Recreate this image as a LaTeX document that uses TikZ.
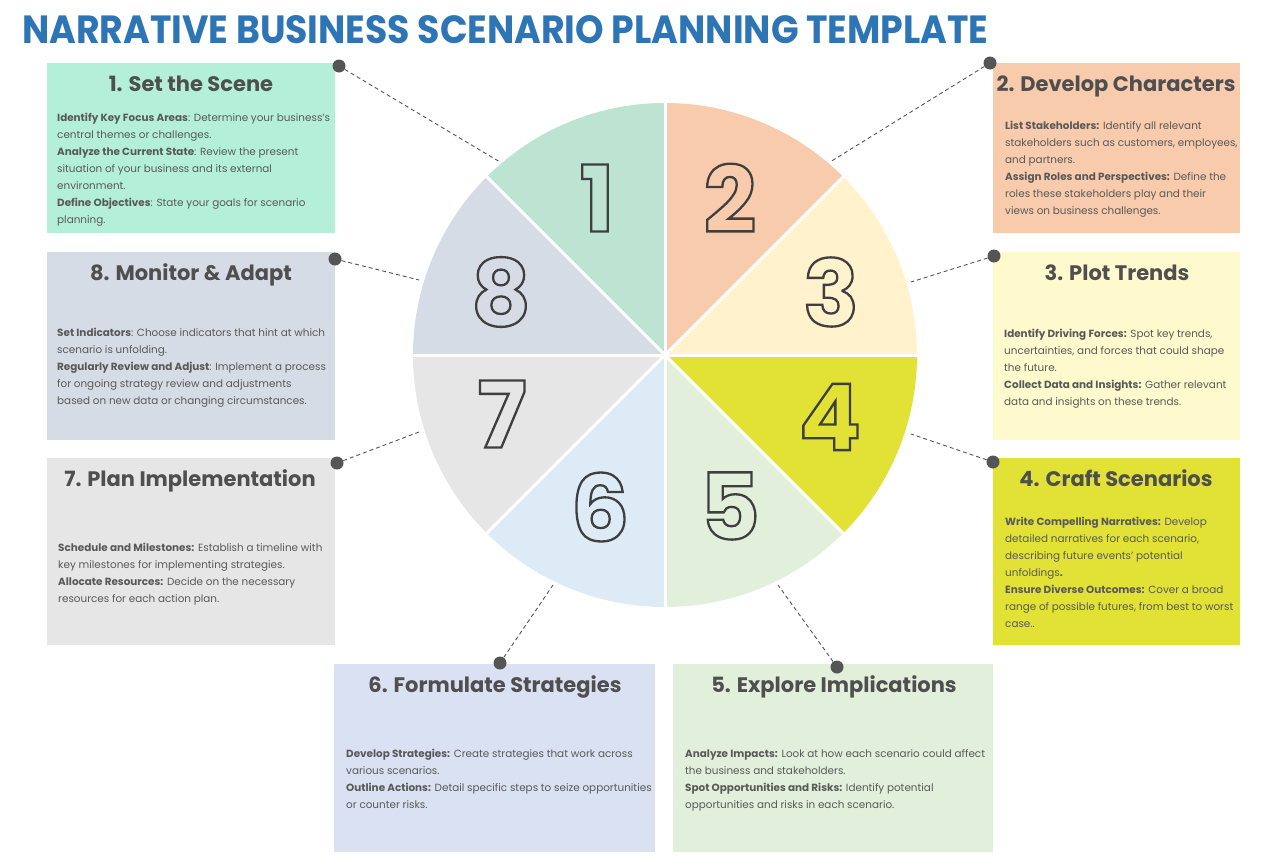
\documentclass[tikz,border=0pt]{standalone}
\usepackage{fontspec}
\setmainfont{Poppins}
\usepackage{graphicx}

\definecolor{titleblue}{HTML}{2E75B6}
\definecolor{headgray}{HTML}{4F4F4F}
\definecolor{txtgray}{HTML}{595959}
\definecolor{dotgray}{HTML}{555555}
\definecolor{numgray}{HTML}{3F3F3F}
% boxes
\definecolor{c1}{HTML}{B4F0D9}
\definecolor{c2}{HTML}{F8CBAD}
\definecolor{c3}{HTML}{FFFACD}
\definecolor{c4}{HTML}{E1E235}
\definecolor{c5}{HTML}{E2EFDA}
\definecolor{c6}{HTML}{DAE1F3}
\definecolor{c7}{HTML}{E7E6E6}
\definecolor{c8}{HTML}{D6DCE5}
% sectors
\definecolor{s1}{HTML}{BDE3D3}
\definecolor{s2}{HTML}{F8CBAD}
\definecolor{s3}{HTML}{FFF2CC}
\definecolor{s4}{HTML}{E1E235}
\definecolor{s5}{HTML}{E2EFDA}
\definecolor{s6}{HTML}{DDEBF7}
\definecolor{s7}{HTML}{E7E6E6}
\definecolor{s8}{HTML}{D6DCE5}

% outlined digits (stroke only)
\newcommand\outlined[1]{\special{pdf:code 1 Tr 2.3 w}#1\special{pdf:code 0 Tr}}

\begin{document}
\begin{tikzpicture}[x=1pt,y=-1pt]
  \tikzset{ p/.style={circle,fill=dotgray,inner sep=0pt,minimum size=13pt},
    box/.style={anchor=north west,inner sep=0pt,fill=#1},
    head/.style={anchor=base,text=headgray,font=\bfseries\fontsize{21}{25}\selectfont},
    txt/.style={anchor=north west,inner sep=0pt,align=left,text=txtgray,font=\fontsize{10.4}{17}\selectfont},
    num/.style={inner sep=0pt,text=numgray,font=\bfseries\fontsize{92}{92}\selectfont},
    dashline/.style={dotgray,line width=0.9pt,dash pattern=on 4pt off 3pt},
  }
  \useasboundingbox (0,0) rectangle (1275,860);

  \node[anchor=base west,inner sep=0pt,text=titleblue] (title) at (22,43)
    {\resizebox{966pt}{28pt}{\bfseries NARRATIVE BUSINESS SCENARIO PLANNING TEMPLATE}};

  % the boxes
  \node[box=c1,minimum width=288pt,minimum height=170pt] (b1) at (47,63) {};
  \node[box=c2,minimum width=247pt,minimum height=170pt] (b2) at (993,63) {};
  \node[box=c8,minimum width=288pt,minimum height=188pt] (b8) at (47,252) {};
  \node[box=c3,minimum width=247pt,minimum height=188pt] (b3) at (993,252) {};
  \node[box=c7,minimum width=288pt,minimum height=187pt] (b7) at (47,458) {};
  \node[box=c4,minimum width=247pt,minimum height=187pt] (b4) at (993,458) {};
  \node[box=c6,minimum width=321pt,minimum height=188pt] (b6) at (334,664) {};
  \node[box=c5,minimum width=320pt,minimum height=188pt] (b5) at (673,664) {};

  % the wheel
  \foreach \c [count=\i] in {s1,s2,s3,s4,s5,s6,s7,s8}
    \fill[\c] (665,355) -- ++({-180+45*\i}:252) arc[start angle={-180+45*\i}, delta angle=45, radius=252] -- cycle;
  \foreach \a in {0,45,...,315}
    \draw[white,line width=3pt] (665,355) -- ++(\a:254);

  \node[num] (n1) at (597,198) {\outlined{1}};
  \node[num] (n2) at (730,198) {\outlined{2}};
  \node[num] (n3) at (831,292) {\outlined{3}};
  \node[num] (n4) at (830,417) {\outlined{4}};
  \node[num] (n5) at (730,506) {\outlined{5}};
  \node[num] (n6) at (600,507) {\outlined{6}};
  \node[num] (n7) at (502,414) {\outlined{7}};
  \node[num] (n8) at (501,292) {\outlined{8}};

  % the dots and their lines to the wheel
  \node[p] (d1) at (339,66) {};
  \node[p] (d2) at (990,63) {};
  \node[p] (d3) at (994,256) {};
  \node[p] (d4) at (993,462) {};
  \node[p] (d5) at (837,667) {};
  \node[p] (d6) at (500,663) {};
  \node[p] (d7) at (337,463) {};
  \node[p] (d8) at (335,259) {};
  \coordinate (e1) at (500,162);
  \coordinate (e2) at (830,162);
  \coordinate (e3) at (911,282);
  \coordinate (e4) at (911,434);
  \coordinate (e5) at (778,585);
  \coordinate (e6) at (553,585);
  \coordinate (e7) at (419,432);
  \coordinate (e8) at (419,280);
  \foreach \i in {1,...,8}
    \draw[dashline] (d\i) -- (e\i);

  % headings
  \node[head] (h1) at (191,91) {1. Set the Scene};
  \node[head] (h2) at (1116,91) {2. Develop Characters};
  \node[head] (h3) at (1117,280) {3. Plot Trends};
  \node[head] (h4) at (1116,486) {4. Craft Scenarios};
  \node[head] (h5) at (834,692) {5. Explore Implications};
  \node[head] (h6) at (495,692) {6. Formulate Strategies};
  \node[head] (h7) at (190,486) {7. Plan Implementation};
  \node[head] (h8) at (191,280) {8. Monitor \& Adapt};

  % texts
  \node[txt] (t1) at (57,113) {\textbf{Identify Key Focus Areas}: Determine your business’s\\
    central themes or challenges.\\
    \textbf{Analyze the Current State}: Review the present\\
    situation of your business and its external\\
    environment.\\
    \textbf{Define Objectives}: State your goals for scenario\\
    planning.};
  \node[txt] (t2) at (1005,121) {\textbf{List Stakeholders:} Identify all relevant\\
    stakeholders such as customers, employees,\\
    and partners.\\
    \textbf{Assign Roles and Perspectives:} Define the\\
    roles these stakeholders play and their\\
    views on business challenges.};
  \node[txt] (t3) at (1004,329) {\textbf{Identify Driving Forces:} Spot key trends,\\
    uncertainties, and forces that could shape\\
    the future.\\
    \textbf{Collect Data and Insights:} Gather relevant\\
    data and insights on these trends.};
  \node[txt] (t4) at (1005,517) {\textbf{Write Compelling Narratives:} Develop\\
    detailed narratives for each scenario,\\
    describing future events’ potential\\
    unfoldings\textbf{.}\\
    \textbf{Ensure Diverse Outcomes:} Cover a broad\\
    range of possible futures, from best to worst\\
    case..};
  \node[txt] (t5) at (685,749) {\textbf{Analyze Impacts:} Look at how each scenario could affect\\
    the business and stakeholders.\\
    \textbf{Spot Opportunities and Risks:} Identify potential\\
    opportunities and risks in each scenario.};
  \node[txt] (t6) at (346,749) {\textbf{Develop Strategies:} Create strategies that work across\\
    various scenarios.\\
    \textbf{Outline Actions:} Detail specific steps to seize opportunities\\
    or counter risks.};
  \node[txt] (t7) at (58,543) {\textbf{Schedule and Milestones:} Establish a timeline with\\
    key milestones for implementing strategies.\\
    \textbf{Allocate Resources:} Decide on the necessary\\
    resources for each action plan.};
  \node[txt] (t8) at (57,328) {\textbf{Set Indicators}: Choose indicators that hint at which\\
    scenario is unfolding.\\
    \textbf{Regularly Review and Adjust}: Implement a process\\
    for ongoing strategy review and adjustments\\
    based on new data or changing circumstances.};
\end{tikzpicture}
\end{document}
